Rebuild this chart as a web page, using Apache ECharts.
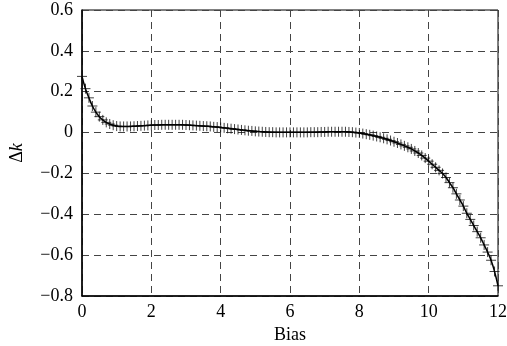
<!DOCTYPE html>
<html>
<head>
<meta charset="utf-8">
<script src="https://cdn.jsdelivr.net/npm/echarts@6/dist/echarts.min.js"></script>
<style>
  html, body { margin: 0; padding: 0; background: #fff; }
  #chart { width: 507px; height: 346px; }
</style>
</head>
<body>
<div id="chart"></div>
<script>
// 偏置量 (x)
const biasValues = [
  0.0, 0.1, 0.2, 0.3, 0.4, 0.5, 0.6, 0.7, 0.8, 0.9,
  1.0, 1.1, 1.2, 1.3, 1.4, 1.5, 1.6, 1.7, 1.8, 1.9,
  2.0, 2.1, 2.2, 2.3, 2.4, 2.5, 2.6, 2.7, 2.8, 2.9,
  3.0, 3.1, 3.2, 3.3, 3.4, 3.5, 3.6, 3.7, 3.8, 3.9,
  4.0, 4.1, 4.2, 4.3, 4.4, 4.5, 4.6, 4.7, 4.8, 4.9,
  5.0, 5.1, 5.2, 5.3, 5.4, 5.5, 5.6, 5.7, 5.8, 5.9,
  6.0, 6.1, 6.2, 6.3, 6.4, 6.5, 6.6, 6.7, 6.8, 6.9,
  7.0, 7.1, 7.2, 7.3, 7.4, 7.5, 7.6, 7.7, 7.8, 7.9,
  8.0, 8.1, 8.2, 8.3, 8.4, 8.5, 8.6, 8.7, 8.8, 8.9,
  9.0, 9.1, 9.2, 9.3, 9.4, 9.5, 9.6, 9.7, 9.8, 9.9,
  10.0, 10.1, 10.2, 10.3, 10.4, 10.5, 10.6, 10.7, 10.8, 10.9,
  11.0, 11.1, 11.2, 11.3, 11.4, 11.5, 11.6, 11.7, 11.8, 11.9,
  12.0
];

// Δk 读数
const deltaK = [
  0.275, 0.215, 0.170, 0.130, 0.100, 0.078, 0.062, 0.050, 0.042, 0.036,
  0.032, 0.030, 0.030, 0.030, 0.030, 0.031, 0.032, 0.033, 0.034, 0.035,
  0.036, 0.037, 0.037, 0.038, 0.038, 0.038, 0.038, 0.038, 0.038, 0.038,
  0.037, 0.036, 0.035, 0.034, 0.033, 0.032, 0.031, 0.030, 0.028, 0.027,
  0.025, 0.023, 0.021, 0.019, 0.017, 0.015, 0.013, 0.011, 0.009, 0.008,
  0.006, 0.005, 0.004, 0.003, 0.002, 0.002, 0.001, 0.001, 0.001, 0.001,
  0.001, 0.001, 0.001, 0.001, 0.001, 0.001, 0.002, 0.002, 0.002, 0.003,
  0.003, 0.004, 0.004, 0.004, 0.004, 0.004, 0.004, 0.003, 0.002, 0.000,
  -0.002, -0.005, -0.008, -0.011, -0.015, -0.019, -0.023, -0.028, -0.033, -0.039,
  -0.045, -0.051, -0.058, -0.065, -0.072, -0.080, -0.090, -0.100, -0.112, -0.125,
  -0.140, -0.155, -0.170, -0.185, -0.200, -0.220, -0.245, -0.270, -0.300, -0.330,
  -0.360, -0.395, -0.425, -0.455, -0.485, -0.515, -0.550, -0.585, -0.625, -0.680,
  -0.750
];

const xTicks = [0, 2, 4, 6, 8, 10, 12];
const yTicks = [-0.8, -0.6, -0.4, -0.2, 0, 0.2, 0.4, 0.6];

const points = biasValues.map((x, i) => [x, deltaK[i]]);
const serif = 'Liberation Serif, Times New Roman, serif';

// 十字标记
const plusSymbol = 'path://M0,5L10,5M5,0L5,10';

const chart = echarts.init(document.getElementById('chart'), null, { renderer: 'canvas' });

// 负号用 "−"
const fmtY = v => {
  const s = Math.abs(v) < 1e-9 ? '0' : v.toFixed(1);
  return s.replace('-', '\u2212');
};

const option = {
  animation: false,
  backgroundColor: '#fff',
  grid: {
    left: 82,
    right: 9,
    top: 10,
    bottom: 50,
    containLabel: false,
    outerBoundsMode: 'none',
    show: true,
    borderColor: '#000',
    borderWidth: 1
  },
  xAxis: {
    type: 'value',
    min: xTicks[0],
    max: xTicks[xTicks.length - 1],
    interval: 2,
    name: 'Bias',
    nameLocation: 'middle',
    nameGap: 24,
    nameTextStyle: { fontFamily: serif, fontSize: 18, color: '#000' },
    axisLine: { show: true, onZero: false, lineStyle: { color: '#000', width: 1.5 } },
    axisTick: { show: false },
    axisLabel: { fontFamily: serif, fontSize: 18, color: '#000', margin: 7 },
    splitLine: { show: true, lineStyle: { color: '#444', type: [7, 5], width: 1 } }
  },
  yAxis: {
    type: 'value',
    min: yTicks[0],
    max: yTicks[yTicks.length - 1],
    interval: 0.2,
    name: '{a|Δ}{b|k}',
    nameLocation: 'middle',
    nameGap: 56,
    nameRotate: 90,
    nameTextStyle: {
      rich: {
        a: { fontFamily: serif, fontSize: 18, color: '#000' },
        b: { fontFamily: serif, fontSize: 18, fontStyle: 'italic', color: '#000' }
      }
    },
    axisLine: { show: true, onZero: false, lineStyle: { color: '#000', width: 1.5 } },
    axisTick: { show: false },
    axisLabel: { fontFamily: serif, fontSize: 18, color: '#000', margin: 9, formatter: fmtY },
    splitLine: { show: true, lineStyle: { color: '#444', type: [7, 5], width: 1 } }
  },
  series: [
    {
      type: 'line',
      data: points,
      smooth: true,
      showSymbol: false,
      lineStyle: { color: '#000', width: 1.5 },
      z: 3
    },
    {
      type: 'scatter',
      data: points,
      symbol: plusSymbol,
      symbolSize: [10, 10],
      itemStyle: { color: 'none', borderColor: '#111', borderWidth: 1 },
      z: 2
    }
  ]
};

chart.setOption(option);
</script>
</body>
</html>
